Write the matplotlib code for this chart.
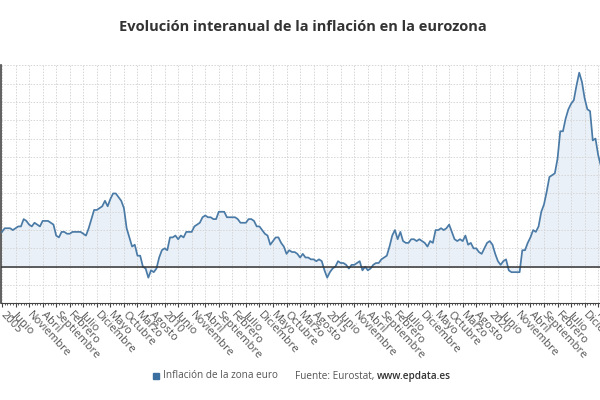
import matplotlib
matplotlib.use("Agg")
import matplotlib.pyplot as plt
from matplotlib.patches import Rectangle
from matplotlib.ticker import MultipleLocator
import numpy as np

plt.rcParams['font.family'] = ['Open Sans', 'DejaVu Sans']

# =============================================================================
# Inflacion interanual zona euro (%) - mensual desde enero 2005
# =============================================================================
inf_2005 = [1.9, 2.1, 2.1, 2.1, 2.0, 2.1, 2.2, 2.2, 2.6, 2.5, 2.3, 2.2]
inf_2006 = [2.4, 2.3, 2.2, 2.5, 2.5, 2.5, 2.4, 2.3, 1.7, 1.6, 1.9, 1.9]
inf_2007 = [1.8, 1.8, 1.9, 1.9, 1.9, 1.9, 1.8, 1.7, 2.1, 2.6, 3.1, 3.1]
inf_2008 = [3.2, 3.3, 3.6, 3.3, 3.7, 4.0, 4.0, 3.8, 3.6, 3.2, 2.1, 1.6]
inf_2009 = [1.1, 1.2, 0.6, 0.6, 0.0, -0.1, -0.6, -0.2, -0.3, -0.1, 0.5, 0.9]
inf_2010 = [1.0, 0.9, 1.6, 1.6, 1.7, 1.5, 1.7, 1.6, 1.9, 1.9, 1.9, 2.2]
inf_2011 = [2.3, 2.4, 2.7, 2.8, 2.7, 2.7, 2.6, 2.6, 3.0, 3.0, 3.0, 2.7]
inf_2012 = [2.7, 2.7, 2.7, 2.6, 2.4, 2.4, 2.4, 2.6, 2.6, 2.5, 2.2, 2.2]
inf_2013 = [2.0, 1.8, 1.7, 1.2, 1.4, 1.6, 1.6, 1.3, 1.1, 0.7, 0.9, 0.8]
inf_2014 = [0.8, 0.7, 0.5, 0.7, 0.5, 0.5, 0.4, 0.4, 0.3, 0.4, 0.3, -0.2]
inf_2015 = [-0.6, -0.3, -0.1, 0.0, 0.3, 0.2, 0.2, 0.1, -0.1, 0.1, 0.1, 0.2]
inf_2016 = [0.3, -0.2, 0.0, -0.2, -0.1, 0.1, 0.2, 0.2, 0.4, 0.5, 0.6, 1.1]
inf_2017 = [1.7, 2.0, 1.5, 1.9, 1.4, 1.3, 1.3, 1.5, 1.5, 1.4, 1.5, 1.4]
inf_2018 = [1.3, 1.1, 1.4, 1.3, 2.0, 2.0, 2.1, 2.0, 2.1, 2.3, 1.9, 1.5]
inf_2019 = [1.4, 1.5, 1.4, 1.7, 1.2, 1.3, 1.0, 1.0, 0.8, 0.7, 1.0, 1.3]
inf_2020 = [1.4, 1.2, 0.7, 0.3, 0.1, 0.3, 0.4, -0.2, -0.3, -0.3, -0.3, -0.3]
inf_2021 = [0.9, 0.9, 1.3, 1.6, 2.0, 1.9, 2.2, 3.0, 3.4, 4.1, 4.9, 5.0]
inf_2022 = [5.1, 5.9, 7.4, 7.4, 8.1, 8.6, 8.9, 9.1, 9.9, 10.6, 10.1, 9.2]
inf_2023 = [8.6, 8.5, 6.9, 7.0, 6.1, 5.5]

meses = ["Enero", "Febrero", "Marzo", "Abril", "Mayo", "Junio", "Julio",
         "Agosto", "Septiembre", "Octubre", "Noviembre", "Diciembre"]
anio0 = 2005

inf = (inf_2005 + inf_2006 + inf_2007 + inf_2008 + inf_2009 + inf_2010
       + inf_2011 + inf_2012 + inf_2013 + inf_2014 + inf_2015 + inf_2016
       + inf_2017 + inf_2018 + inf_2019 + inf_2020 + inf_2021 + inf_2022
       + inf_2023)
x = np.arange(len(inf))

# etiquetas cada 5 meses, enero = año
tk = np.arange(0, len(inf), 5)
tkl = []
for i in tk:
    if i % 12 == 0:
        tkl.append(str(anio0 + i // 12))
    else:
        tkl.append(meses[i % 12])

# =============================================================================
# figura
# =============================================================================
fig = plt.figure(figsize=(6, 4), dpi=100)
ax = fig.add_axes([0.0015, 0.2418, 1.0, 0.5948])

lc = "#4a7aa6"
ax.fill_between(x, inf, 0, color="#e9f0f7", lw=0, zorder=1)
ax.plot(x, inf, color=lc, lw=1.25, zorder=3)
ax.axhline(0, color="#333333", lw=1.1, zorder=4)

pxm = 2.714  # px por mes
ax.set_xlim(-0.4, -0.4 + 600 / pxm)
ax.set_ylim(-2, 11)

ax.yaxis.set_major_locator(MultipleLocator(1))
ax.set_xticks(tk)
ax.set_xticks(x, minor=True)
ax.set_xticklabels(tkl, rotation=-47, ha="left", va="center",
                   rotation_mode="anchor", fontsize=8, color="#555555")
ax.tick_params(axis="x", which="major", length=3, color="#444444", pad=4)
ax.tick_params(axis="x", which="minor", length=1.5, color="#444444")
ax.tick_params(axis="y", labelleft=False, length=0)

ax.grid(True, color="#d6d6d6", ls=(0, (1.5, 1.5)), lw=0.7, zorder=0)
for s in ["top", "right"]:
    ax.spines[s].set_visible(False)
ax.spines["left"].set_color("#444444")
ax.spines["bottom"].set_color("#444444")
ax.spines["left"].set_linewidth(1.2)

fig.text(0.505, 0.932, "Evolución interanual de la inflación en la eurozona",
         ha="center", va="center", fontsize=10.5, fontweight="bold",
         color="#333333")

# leyenda y fuente
fig.patches.append(Rectangle((153 / 600, 0.0525), 6 / 600, 6 / 400,
                             transform=fig.transFigure, color="#3a6fa0"))
fig.text(163 / 600, 0.06, "Inflación de la zona euro", ha="left",
         va="center", fontsize=7.2, color="#555555")
t1 = fig.text(295 / 600, 0.06, "Fuente: Eurostat, ", ha="left",
              va="center", fontsize=7.2, color="#555555")
fig.canvas.draw()
bb = t1.get_window_extent()
fig.text(bb.x1 / fig.bbox.width, 0.06, "www.epdata.es", ha="left",
         va="center", fontsize=7.2, color="#333333", fontweight="semibold")

fig.savefig("out.png", dpi=100)
